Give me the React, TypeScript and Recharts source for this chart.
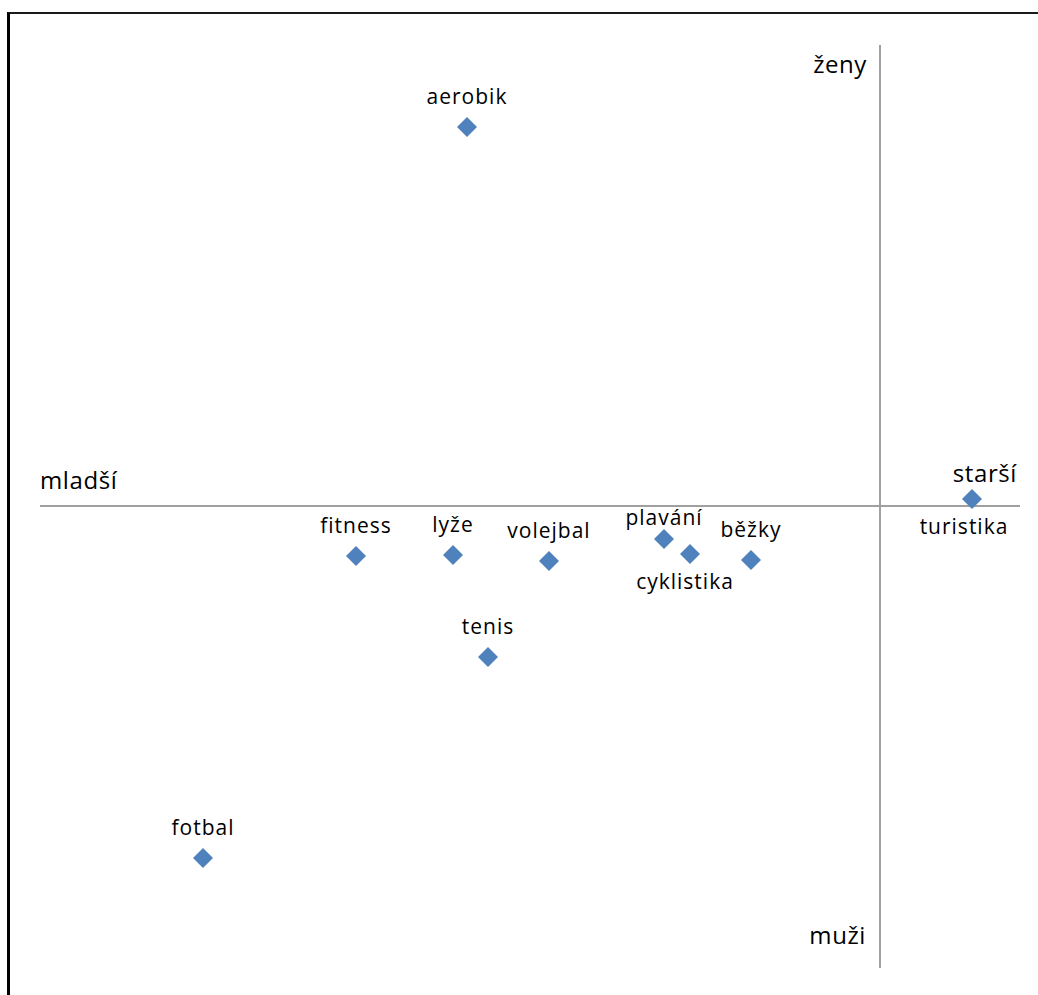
import React from 'react';
import { ScatterChart, Scatter, XAxis, YAxis, ReferenceLine } from 'recharts';

const sports = ['aerobik', 'fitness', 'lyže', 'volejbal', 'plavání', 'cyklistika', 'běžky', 'tenis', 'fotbal', 'turistika'];
const ageValues = [-4.13, -5.24, -4.27, -3.31, -2.16, -1.9, -1.29, -3.92, -6.77, 0.92];
const genderValues = [3.79, -0.5, -0.49, -0.55, -0.33, -0.48, -0.54, -1.51, -3.52, 0.07];
const axisWords = ['mladší', 'starší', 'ženy', 'muži'];

const data = sports.map((name, i) => ({ name, x: ageValues[i], y: genderValues[i] }));

// label placement (style): default above the marker
const labelPlacement: Record<string, { dx: number; dy: number }> = {
  'plavání': { dx: 0, dy: -14 },
  cyklistika: { dx: -5, dy: 35 },
  turistika: { dx: -8, dy: 35 },
};

const FONT = '"Open Sans", "Noto Sans", sans-serif';
const MARKER = '#4F81BD';

const Diamond = (props: any) => {
  const { cx, cy, payload } = props;
  if (cx == null || cy == null) return null;
  const r = 10;
  const pl = labelPlacement[payload.name] || { dx: 0, dy: -23 };
  return (
    <g>
      <polygon
        points={`${cx},${cy - r} ${cx + r},${cy} ${cx},${cy + r} ${cx - r},${cy}`}
        fill={MARKER}
      />
      <text
        x={cx + pl.dx}
        y={cy + pl.dy}
        textAnchor="middle"
        fontFamily={FONT}
        fontSize={21}
        letterSpacing={1}
        fill="#000"
      >
        {payload.name}
      </text>
    </g>
  );
};

const HLabels = (props: any) => {
  const vb = props.viewBox || {};
  const x = vb.x ?? 0;
  const y = vb.y ?? 0;
  const w = vb.width ?? 0;
  return (
    <g fontFamily={FONT} fontSize={24} letterSpacing={0.6} fill="#000">
      <text x={x} y={y - 17} textAnchor="start">{axisWords[0]}</text>
      <text x={x + w - 3} y={y - 24} textAnchor="end">{axisWords[1]}</text>
    </g>
  );
};

const VLabels = (props: any) => {
  const vb = props.viewBox || {};
  const x = vb.x ?? 0;
  const y = vb.y ?? 0;
  const h = vb.height ?? 0;
  return (
    <g fontFamily={FONT} fontSize={24} letterSpacing={0.6} fill="#000">
      <text x={x - 13} y={y + 28} textAnchor="end">{axisWords[2]}</text>
      <text x={x - 14} y={y + h - 24} textAnchor="end">{axisWords[3]}</text>
    </g>
  );
};

export default function App() {
  return (
    <div style={{ position: 'fixed', left: 0, top: 0, width: 1038, height: 995, overflow: 'hidden', background: '#fff' }}>
      <div
        style={{
          position: 'absolute',
          left: 7,
          top: 12,
          width: 1200,
          height: 1200,
          borderLeft: '3px solid #000',
          borderTop: '2px solid #1a1a1a',
        }}
      />
      <div style={{ position: 'absolute', left: 0, top: 0 }}>
        <ScatterChart width={1038} height={995} margin={{ left: 40, right: 18, top: 45, bottom: 27 }}>
          <XAxis type="number" dataKey="x" domain={[-8.4, 1.4]} hide allowDataOverflow />
          <YAxis type="number" dataKey="y" domain={[-4.62, 4.61]} hide allowDataOverflow />
          <ReferenceLine y={0} stroke="#a0a0a0" strokeWidth={2} label={<HLabels />} />
          <ReferenceLine x={0} stroke="#a0a0a0" strokeWidth={2} label={<VLabels />} />
          <Scatter data={data} shape={<Diamond />} isAnimationActive={false} />
        </ScatterChart>
      </div>
    </div>
  );
}
